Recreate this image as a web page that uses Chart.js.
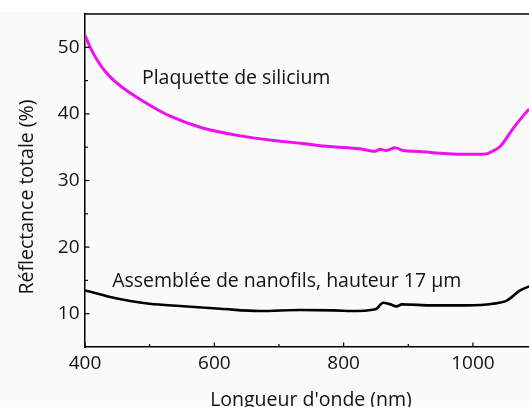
<!DOCTYPE html>
<html><head><meta charset="utf-8">
<script src="https://cdn.jsdelivr.net/npm/chart.js@4"></script>
<style>
html,body{margin:0;padding:0;background:#fff;overflow:hidden;width:529px;height:407px}
#wrap{position:absolute;left:0;top:0;width:545px;height:407px}
</style></head><body>
<div id="wrap"><canvas id="c" width="545" height="407"></canvas></div>
<script>
const siWavelength = [400, 408, 420, 431, 445, 459, 485, 511, 531, 578, 640, 702, 733, 779, 825, 849, 856, 866, 880, 892, 918, 949, 980, 1011, 1021, 1026, 1042, 1062, 1075, 1087];
const siReflectance = [51.8, 50.0, 47.9, 46.4, 45.0, 43.9, 42.2, 40.7, 39.7, 38.0, 36.7, 35.9, 35.6, 35.1, 34.75, 34.4, 34.7, 34.5, 34.9, 34.5, 34.35, 34.1, 33.95, 33.95, 34.0, 34.2, 35.1, 37.8, 39.4, 40.75];
const nwWavelength = [400, 420, 439, 470, 500, 547, 609, 671, 733, 784, 821, 845, 851, 861, 872, 882, 890, 938, 990, 1031, 1053, 1073, 1087];
const nwReflectance = [13.5, 13.0, 12.5, 11.9, 11.5, 11.15, 10.75, 10.4, 10.55, 10.5, 10.4, 10.6, 10.75, 11.65, 11.4, 11.1, 11.4, 11.25, 11.25, 11.5, 12.0, 13.5, 14.1];
const xMajorTicks = [400, 600, 800, 1000];
const xMinorTicks = [500, 700, 900];
const yMajorTicks = [10, 20, 30, 40, 50];
const yMinorTicks = [15, 25, 35, 45];
const siLabel = 'Plaquette de silicium';
const nwLabel = 'Assemblée de nanofils, hauteur 17 µm';
const xTitle = "Longueur d'onde (nm)";
const yTitle = 'Réflectance totale (%)';

const FONT = '"Open Sans", "DejaVu Sans", sans-serif';
Chart.defaults.font.family = FONT;

const bgPlugin = {
  id: 'bg',
  beforeDraw(chart) {
    const ctx = chart.ctx;
    ctx.save();
    ctx.fillStyle = '#fafafa';
    ctx.fillRect(0, 12, chart.width, chart.height - 12);
    ctx.restore();
  }
};

const decoPlugin = {
  id: 'deco',
  afterDraw(chart) {
    const ctx = chart.ctx;
    const xs = chart.scales.x, ys = chart.scales.y;
    const a = chart.chartArea;
    ctx.save();
    ctx.strokeStyle = '#000';
    ctx.lineWidth = 1.5;
    ctx.beginPath();
    ctx.moveTo(a.left, a.top);
    ctx.lineTo(a.right, a.top);
    ctx.stroke();
    ctx.lineWidth = 1.2;
    const tick = (v, len, axis) => {
      ctx.beginPath();
      if (axis === 'x') {
        const p = xs.getPixelForValue(v);
        ctx.moveTo(p, a.bottom);
        ctx.lineTo(p, a.bottom - len);
      } else {
        const p = ys.getPixelForValue(v);
        ctx.moveTo(a.left, p);
        ctx.lineTo(a.left + len, p);
      }
      ctx.stroke();
    };
    xMajorTicks.forEach(v => tick(v, 4.5, 'x'));
    xMinorTicks.forEach(v => tick(v, 3, 'x'));
    yMajorTicks.forEach(v => tick(v, 4.5, 'y'));
    yMinorTicks.forEach(v => tick(v, 3, 'y'));
    ctx.fillStyle = '#111';
    ctx.font = '19.5px ' + FONT;
    ctx.textAlign = 'center';
    ctx.textBaseline = 'alphabetic';
    ctx.fillText(xTitle, 311, 406);
    ctx.translate(33, 197);
    ctx.rotate(-Math.PI / 2);
    ctx.fillText(yTitle, 0, 0);
    ctx.restore();
    ctx.save();
    ctx.fillStyle = '#111';
    ctx.font = '19.5px ' + FONT;
    ctx.textAlign = 'left';
    ctx.textBaseline = 'alphabetic';
    ctx.fillText(siLabel, xs.getPixelForValue(488), ys.getPixelForValue(44.5));
    ctx.fillText(nwLabel, xs.getPixelForValue(442), ys.getPixelForValue(13.95));
    ctx.restore();
  }
};

const toPoints = (xa, ya) => xa.map((x, i) => ({x, y: ya[i]}));

new Chart(document.getElementById('c'), {
  type: 'line',
  data: {
    datasets: [
      { label: siLabel, data: toPoints(siWavelength, siReflectance), borderColor: '#ee10ee', borderWidth: 3, pointRadius: 0, cubicInterpolationMode: 'monotone', fill: false },
      { label: nwLabel, data: toPoints(nwWavelength, nwReflectance), borderColor: '#000', borderWidth: 2.6, pointRadius: 0, cubicInterpolationMode: 'monotone', fill: false }
    ]
  },
  options: {
    responsive: false,
    animation: false,
    events: [],
    layout: { padding: { top: 14, right: 7.4, left: 0, bottom: 0 } },
    plugins: { legend: { display: false }, tooltip: { enabled: false } },
    scales: {
      x: {
        type: 'linear', min: 400, max: 1100,
        afterBuildTicks: s => { s.ticks = xMajorTicks.map(v => ({value: v})); },
        afterFit: s => { s.height = 60; s.paddingLeft = 0; s.paddingRight = 0; },
        grid: { display: false, drawTicks: false },
        border: { display: true, color: '#000', width: 1.5 },
        ticks: { color: '#111', font: { size: 19 }, padding: 5, maxRotation: 0, autoSkip: false, callback: v => String(v) }
      },
      y: {
        type: 'linear', min: 5, max: 55,
        afterBuildTicks: s => { s.ticks = yMajorTicks.map(v => ({value: v})); },
        afterFit: s => { s.width = 85; s.paddingTop = 0; s.paddingBottom = 0; },
        grid: { display: false, drawTicks: false },
        border: { display: true, color: '#000', width: 1.5 },
        ticks: { color: '#111', font: { size: 19 }, padding: 5.5, autoSkip: false, callback: v => String(v) }
      }
    }
  },
  plugins: [bgPlugin, decoPlugin]
});
</script>
</body></html>
